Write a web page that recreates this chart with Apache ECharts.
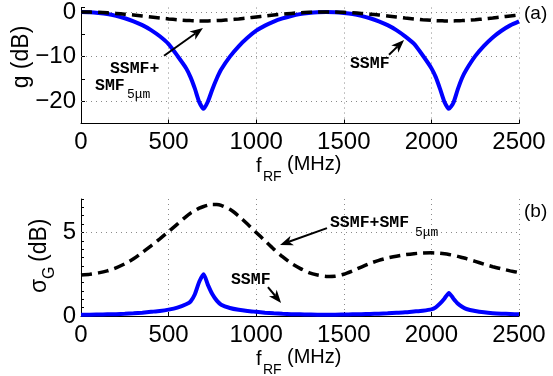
<!DOCTYPE html>
<html>
<head>
<meta charset="utf-8">
<script src="https://cdn.jsdelivr.net/npm/echarts@6/dist/echarts.min.js"></script>
<style>
  html, body { margin: 0; padding: 0; background: #ffffff; }
  #chart { width: 553px; height: 376px; }
</style>
</head>
<body>
<div id="chart"></div>
<script>
// RF frequency grid (MHz), denser around the fading notches
const freqMHz = [0,50,100,150,200,250,300,350,400,450,500,550,600,625,650,675,700,725,750,775,800,
  850,900,950,1000,1050,1100,1150,1200,1250,1300,1350,1400,1450,1500,1550,1600,1650,1700,1750,1800,
  1850,1900,1950,2000,2025,2050,2075,2100,2125,2150,2175,2200,2250,2300,2350,2400,2450,2500];

// (a) RF gain g (dB)
const gainSSMF = [0,-0.05,-0.22,-0.47,-0.87,-1.4,-2.09,-2.95,-4.05,-5.45,-7.2,-9.8,-12.6,-14.6,-17.2,-20.2,-21.7,-20.0,-17.3,-14.9,-12.9,
  -10.0,-7.7,-5.8,-4.2,-3.05,-2.15,-1.45,-0.9,-0.48,-0.22,-0.05,0,-0.05,-0.22,-0.47,-0.87,-1.4,-2.09,-2.95,-4.05,
  -5.45,-7.1,-9.7,-12.6,-14.6,-17.3,-20.2,-21.7,-20.4,-17.4,-14.8,-12.9,-9.9,-7.6,-5.7,-4.2,-3.0,-2.1];
const gainMixed = [0,-0.02,-0.08,-0.18,-0.31,-0.48,-0.67,-0.89,-1.11,-1.34,-1.55,-1.74,-1.88,-1.93,-1.97,-2.0,-2.01,-2.0,-1.97,-1.93,-1.88,
  -1.74,-1.55,-1.34,-1.11,-0.89,-0.67,-0.48,-0.31,-0.18,-0.08,-0.02,0,-0.02,-0.08,-0.18,-0.31,-0.48,-0.67,-0.89,-1.11,
  -1.34,-1.55,-1.74,-1.88,-1.93,-1.97,-2.0,-2.01,-2.0,-1.97,-1.93,-1.88,-1.74,-1.55,-1.34,-1.11,-0.89,-0.67];

// (b) gain standard deviation sigma_G (dB)
const sigmaSSMF = [0.08,0.08,0.09,0.1,0.11,0.13,0.16,0.2,0.25,0.3,0.38,0.5,0.7,0.86,1.3,2.05,2.5,1.85,1.3,0.92,0.68,
  0.48,0.37,0.3,0.25,0.2,0.16,0.13,0.11,0.1,0.09,0.08,0.08,0.08,0.09,0.1,0.11,0.12,0.14,0.16,0.19,
  0.22,0.27,0.32,0.4,0.52,0.75,1.05,1.38,1.05,0.75,0.55,0.42,0.3,0.22,0.17,0.14,0.12,0.1];
const sigmaMixed = [2.45,2.5,2.58,2.7,2.88,3.12,3.42,3.8,4.2,4.62,5.05,5.5,5.95,6.15,6.3,6.45,6.55,6.63,6.67,6.67,6.62,
  6.38,5.98,5.5,5.0,4.5,4.0,3.55,3.15,2.85,2.6,2.45,2.37,2.38,2.5,2.7,2.93,3.15,3.33,3.47,3.58,
  3.67,3.73,3.77,3.78,3.77,3.75,3.72,3.68,3.63,3.57,3.5,3.43,3.27,3.1,2.95,2.82,2.7,2.6];

// tick labels
const freqTicks = [0, 500, 1000, 1500, 2000, 2500];
const gainTicks = [-20, -10, 0];
const sigmaTicks = [0, 5];

// annotation anchors in data coordinates [f (MHz), value]
const arrowsA = [ { from: [474, -9.8], to: [696, -3.6] }, { from: [1758, -9.6], to: [1844, -6.3] } ];
const arrowsB = [ { from: [1067, 1.73], to: [1142, 0.78] }, { from: [1404, 5.26], to: [1136, 4.25] } ];
const notesA = [
  { at: [165, -12.7], text: 'SSMF+', sub: false },
  { at: [80, -16.5], text: 'SMF', sub: false },
  { at: [262, -18.6], text: '5\u03bcm', sub: true },
  { at: [1535, -11.7], text: 'SSMF', sub: false }
];
const notesB = [
  { at: [856, 2.15], text: 'SSMF', sub: false },
  { at: [1421, 5.56], text: 'SSMF+SMF', sub: false },
  { at: [1906, 4.97], text: '5\u03bcm', sub: true }
];

const FONT = 'Liberation Sans, Arial, Helvetica, sans-serif';
const MONO = 'Courier New, Liberation Mono, monospace';
const pairs = (ys) => freqMHz.map((f, i) => [f, ys[i]]);
const minus = (v) => String(v).replace('-', '\u2212');

const gridLineStyle = { type: [1, 4], color: '#8a8a8a', width: 1 };

function xAxisFor(gridIndex) {
  return {
    type: 'value', gridIndex, min: 0, max: 2500, interval: 500,
    axisLine: { show: true, onZero: false, lineStyle: { color: '#000', width: 1 } },
    axisTick: { show: true, inside: true, length: 4, lineStyle: { color: '#000' } },
    axisLabel: {
      color: '#000', fontFamily: FONT, fontSize: 24, margin: 7, hideOverlap: false,
      formatter: (v) => freqTicks.includes(v) ? String(v) : ''
    },
    splitLine: { show: true, lineStyle: gridLineStyle }
  };
}

function hGrid(values) {
  return {
    silent: true, symbol: ['none', 'none'], animation: false, z: 1,
    label: { show: false }, emphasis: { disabled: true },
    lineStyle: gridLineStyle,
    data: values.map((v) => ({ yAxis: v }))
  };
}

const option = {
  animation: false,
  backgroundColor: '#ffffff',
  grid: [
    { left: 81, top: 6, width: 438, height: 117.5, containLabel: false },
    { left: 81, top: 199, width: 438, height: 117, containLabel: false }
  ],
  xAxis: [xAxisFor(0), xAxisFor(1)],
  yAxis: [
    {
      type: 'value', gridIndex: 0, min: -25, max: 1, interval: 5,
      axisLine: { show: true, onZero: false, lineStyle: { color: '#000', width: 1 } },
      axisTick: { show: true, inside: true, length: 4, lineStyle: { color: '#000' } },
      axisLabel: {
        color: '#000', fontFamily: FONT, fontSize: 24, margin: 5, padding: [4, 0, 0, 0],
        hideOverlap: false,
        formatter: (v) => gainTicks.includes(v) ? minus(v) : ''
      },
      splitLine: { show: false }
    },
    {
      type: 'value', gridIndex: 1, min: 0, max: 7, interval: 0.5,
      axisLine: { show: true, onZero: false, lineStyle: { color: '#000', width: 1 } },
      axisTick: { show: true, inside: true, length: 3, lineStyle: { color: '#000' } },
      axisLabel: {
        color: '#000', fontFamily: FONT, fontSize: 24, margin: 5, padding: [4, 0, 0, 0],
        hideOverlap: false,
        formatter: (v) => sigmaTicks.includes(v) ? String(v) : ''
      },
      splitLine: { show: false }
    }
  ],
  series: [
    {
      name: 'SSMF', type: 'line', xAxisIndex: 0, yAxisIndex: 0, z: 10,
      data: pairs(gainSSMF), symbol: 'none', smooth: 0.2,
      lineStyle: { color: '#0000ff', width: 4 },
      markLine: hGrid(gainTicks)
    },
    {
      name: 'SSMF+SMF5um', type: 'line', xAxisIndex: 0, yAxisIndex: 0, z: 11,
      data: pairs(gainMixed), symbol: 'none', smooth: 0.2,
      lineStyle: { color: '#000000', width: 3.5, type: [11, 6], cap: 'butt' }
    },
    {
      name: 'SSMF', type: 'line', xAxisIndex: 1, yAxisIndex: 1, z: 10,
      data: pairs(sigmaSSMF), symbol: 'none', smooth: 0.2,
      lineStyle: { color: '#0000ff', width: 4 },
      markLine: hGrid([5])
    },
    {
      name: 'SSMF+SMF5um', type: 'line', xAxisIndex: 1, yAxisIndex: 1, z: 11,
      data: pairs(sigmaMixed), symbol: 'none', smooth: 0.2,
      lineStyle: { color: '#000000', width: 3.5, type: [11, 6], cap: 'butt' }
    }
  ]
};

const chart = echarts.init(document.getElementById('chart'), null, { renderer: 'canvas' });
chart.setOption(option);

// ---- annotations, axis names and panel tags ----
const toPx = (g, p) => chart.convertToPixel({ gridIndex: g }, p);

function arrow(tail, tip) {
  const headLen = 13, headW = 10;
  const dx = tip[0] - tail[0], dy = tip[1] - tail[1];
  const L = Math.hypot(dx, dy), ux = dx / L, uy = dy / L, nx = -uy, ny = ux;
  const base = [tip[0] - ux * headLen, tip[1] - uy * headLen];
  const notch = [tip[0] - ux * headLen * 0.72, tip[1] - uy * headLen * 0.72];
  return [
    { type: 'line', z: 50, shape: { x1: tail[0], y1: tail[1], x2: notch[0], y2: notch[1] },
      style: { stroke: '#000', lineWidth: 2 } },
    { type: 'polygon', z: 50, shape: { points: [tip,
        [base[0] + nx * headW / 2, base[1] + ny * headW / 2], notch,
        [base[0] - nx * headW / 2, base[1] - ny * headW / 2]] },
      style: { fill: '#000' } }
  ];
}

function note(g, n) {
  const p = toPx(g, n.at);
  return {
    type: 'text', z: 50, x: p[0], y: p[1],
    style: {
      text: n.text, fill: '#000', align: 'left', verticalAlign: 'middle',
      font: (n.sub ? 'normal 13px ' : 'bold 16.5px ') + MONO
    }
  };
}

function txt(x, y, s, size, extra) {
  return Object.assign({
    type: 'text', z: 50, x, y,
    style: { text: s, fill: '#000', align: 'left', verticalAlign: 'middle', font: size + 'px ' + FONT }
  }, extra || {});
}

function xName(yMain) {
  return [
    txt(256, yMain + 2, 'f', 20),
    txt(263, yMain + 13, 'RF', 14),
    txt(287, yMain, '(MHz)', 20)
  ];
}

const graphics = [];
arrowsA.forEach((a) => graphics.push(...arrow(toPx(0, a.from), toPx(0, a.to))));
arrowsB.forEach((a) => graphics.push(...arrow(toPx(1, a.from), toPx(1, a.to))));
notesA.forEach((n) => graphics.push(note(0, n)));
notesB.forEach((n) => graphics.push(note(1, n)));
graphics.push(...xName(164), ...xName(357));

// y-axis names, rotated to read bottom-to-top
graphics.push({
  type: 'text', z: 50, x: 22, y: 57, rotation: Math.PI / 2,
  style: { text: 'g (dB)', fill: '#000', align: 'center', verticalAlign: 'middle', font: '23px ' + FONT }
});
graphics.push({
  type: 'group', z: 50, x: 40, y: 293, rotation: Math.PI / 2,
  children: [
    { type: 'text', x: 0, y: 0, style: { text: '\u03c3', fill: '#000', align: 'left', verticalAlign: 'middle', font: '23px ' + FONT } },
    { type: 'text', x: 14, y: 10, style: { text: 'G', fill: '#000', align: 'left', verticalAlign: 'middle', font: '16px ' + FONT } },
    { type: 'text', x: 31, y: 0, style: { text: '(dB)', fill: '#000', align: 'left', verticalAlign: 'middle', font: '23px ' + FONT } }
  ]
});

// panel tags
graphics.push(txt(524, 14, '(a)', 19), txt(524, 212, '(b)', 19));

chart.setOption({ graphic: graphics });
</script>
</body>
</html>
